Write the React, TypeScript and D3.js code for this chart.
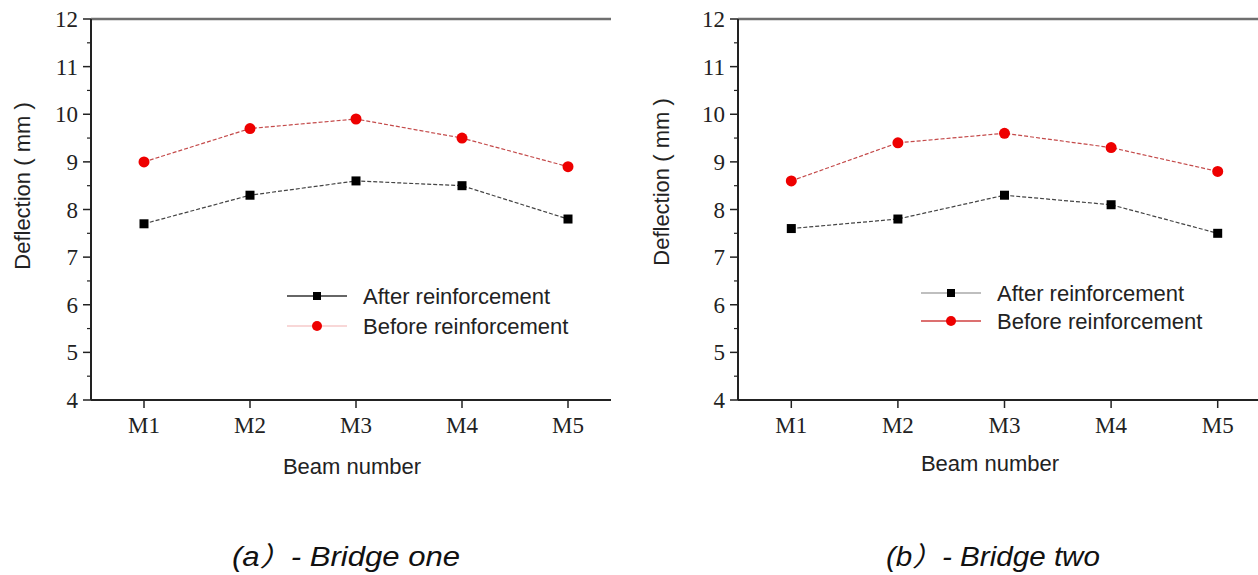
import React from "react";
import * as d3 from "d3";

const beams = ["M1", "M2", "M3", "M4", "M5"];
const yTicks = [4, 5, 6, 7, 8, 9, 10, 11, 12];
const yMinor = [4.5, 5.5, 6.5, 7.5, 8.5, 9.5, 10.5, 11.5];

const bridgeOneAfter = [7.7, 8.3, 8.6, 8.5, 7.8];
const bridgeOneBefore = [9.0, 9.7, 9.9, 9.5, 8.9];
const bridgeTwoAfter = [7.6, 7.8, 8.3, 8.1, 7.5];
const bridgeTwoBefore = [8.6, 9.4, 9.6, 9.3, 8.8];

const seriesNames = ["After reinforcement", "Before reinforcement"];
const captions = ["(a）- Bridge one", "(b）- Bridge two"];

const SERIF = "'Liberation Serif', 'DejaVu Serif', serif";
const SANS = "'Liberation Sans', Arial, sans-serif";
const NARROW = "'Liberation Sans Narrow', 'Liberation Sans', 'Noto Sans CJK SC', sans-serif";

type PanelProps = {
  x0: number;
  x1: number;
  frameEnd: number;
  after: number[];
  before: number[];
  titleX: number;
  titleY: number;
  xTitleX: number;
  xTitleY: number;
  legX: number;
  legY: number;
  legGap: number;
  afterLegColor: string;
  beforeLegColor: string;
  caption: string;
  captionX: number;
  captionW: number;
};

function Panel(p: PanelProps) {
  const yTop = 19;
  const yBot = 400;
  const x = d3.scalePoint<string>().domain(beams).range([p.x0, p.x1]).padding(0.5);
  const y = d3.scaleLinear().domain([4, 12]).range([yBot, yTop]);
  const line = d3
    .line<number>()
    .x((_, i) => x(beams[i]) as number)
    .y((v) => y(v));
  return (
    <g>
      <line x1={p.x0} x2={p.frameEnd} y1={yTop} y2={yTop} stroke="#6f6f6f" strokeWidth={2.5} />
      <line x1={p.x0} x2={p.x0} y1={yTop} y2={yBot} stroke="#222" strokeWidth={2} />
      <line x1={p.x0} x2={p.frameEnd} y1={yBot} y2={yBot} stroke="#222" strokeWidth={2} />
      {yTicks.map((t) => (
        <g key={"yt" + t}>
          <line x1={p.x0 - 8} x2={p.x0} y1={y(t)} y2={y(t)} stroke="#222" strokeWidth={1.5} />
          <text
            x={p.x0 - 13}
            y={y(t)}
            dy="0.35em"
            textAnchor="end"
            fontFamily={SERIF}
            fontSize={23}
            fill="#222"
          >
            {t}
          </text>
        </g>
      ))}
      {yMinor.map((t) => (
        <line key={"ym" + t} x1={p.x0 - 4} x2={p.x0} y1={y(t)} y2={y(t)} stroke="#222" strokeWidth={1.2} />
      ))}
      {beams.map((b) => (
        <g key={"xt" + b}>
          <line x1={x(b)} x2={x(b)} y1={yBot} y2={yBot + 8} stroke="#222" strokeWidth={1.5} />
          <text x={x(b)} y={yBot + 33} textAnchor="middle" fontFamily={SERIF} fontSize={23} fill="#222">
            {b}
          </text>
        </g>
      ))}
      <text
        transform={`translate(${p.titleX},${p.titleY}) rotate(-90)`}
        textAnchor="middle"
        dy="0.35em"
        fontFamily={SANS}
        fontSize={22}
        fill="#222"
      >
        Deflection ( mm )
      </text>
      <text x={p.xTitleX} y={p.xTitleY} textAnchor="middle" fontFamily={SANS} fontSize={22} fill="#222">
        Beam number
      </text>
      <path d={line(p.before) || ""} fill="none" stroke="#c44a4a" strokeWidth={1.2} strokeDasharray="4,2" />
      <path d={line(p.after) || ""} fill="none" stroke="#444" strokeWidth={1.2} strokeDasharray="4,2" />
      {p.before.map((v, i) => (
        <circle key={"bc" + i} cx={x(beams[i])} cy={y(v)} r={5.5} fill="#ee0000" />
      ))}
      {p.after.map((v, i) => (
        <rect key={"ar" + i} x={(x(beams[i]) as number) - 4.5} y={y(v) - 4.5} width={9} height={9} fill="#000" />
      ))}
      <line x1={p.legX} x2={p.legX + 60} y1={p.legY} y2={p.legY} stroke={p.afterLegColor} strokeWidth={1.3} />
      <rect x={p.legX + 26} y={p.legY - 4} width={8} height={8} fill="#000" />
      <text x={p.legX + 76} y={p.legY} dy="0.35em" fontFamily={SANS} fontSize={22} fill="#222">
        {seriesNames[0]}
      </text>
      <line
        x1={p.legX}
        x2={p.legX + 60}
        y1={p.legY + p.legGap}
        y2={p.legY + p.legGap}
        stroke={p.beforeLegColor}
        strokeWidth={1.3}
      />
      <circle cx={p.legX + 30} cy={p.legY + p.legGap} r={5} fill="#ee0000" />
      <text x={p.legX + 76} y={p.legY + p.legGap} dy="0.35em" fontFamily={SANS} fontSize={22} fill="#222">
        {seriesNames[1]}
      </text>
      <text
        x={p.captionX}
        y={566}
        fontFamily={NARROW}
        fontStyle="italic"
        fontSize={27}
        fill="#111"
        textLength={p.captionW}
        lengthAdjust="spacingAndGlyphs"
      >
        {p.caption}
      </text>
    </g>
  );
}

export default function App() {
  return (
    <svg
      width={1258}
      height={575}
      style={{ position: "absolute", left: 0, top: 0, background: "#fff" }}
    >
      <rect width={1258} height={575} fill="#fff" />
      <Panel
        x0={91}
        x1={621}
        frameEnd={611}
        after={bridgeOneAfter}
        before={bridgeOneBefore}
        titleX={22}
        titleY={186}
        xTitleX={352}
        xTitleY={474}
        legX={287}
        legY={296}
        legGap={30}
        afterLegColor="#333"
        beforeLegColor="#f6caca"
        caption={captions[0]}
        captionX={232}
        captionW={228}
      />
      <Panel
        x0={738}
        x1={1271}
        frameEnd={1258}
        after={bridgeTwoAfter}
        before={bridgeTwoBefore}
        titleX={661}
        titleY={182}
        xTitleX={990}
        xTitleY={471}
        legX={921}
        legY={293}
        legGap={28}
        afterLegColor="#aaa"
        beforeLegColor="#d04040"
        caption={captions[1]}
        captionX={886}
        captionW={214}
      />
    </svg>
  );
}
